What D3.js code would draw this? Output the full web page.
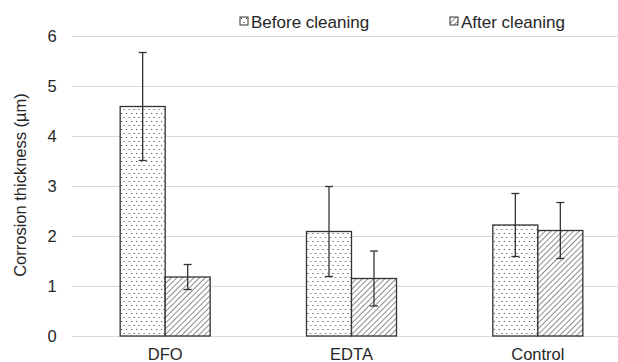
<!DOCTYPE html>
<html>
<head>
<meta charset="utf-8">
<script src="https://cdn.jsdelivr.net/npm/d3@7"></script>
<style>
  body { margin: 0; background: #fff; }
  text { font-family: "Liberation Sans", Arial, sans-serif; fill: #262626; }
</style>
</head>
<body>
<div id="chart"></div>
<script>
// chart data
var categories = ["DFO", "EDTA", "Control"];
var seriesNames = ["Before cleaning", "After cleaning"];
var beforeValues = [4.59, 2.09, 2.22];
var afterValues = [1.18, 1.15, 2.11];
var beforeErrors = [1.08, 0.9, 0.63];
var afterErrors = [0.25, 0.55, 0.56];
var yTicks = [0, 1, 2, 3, 4, 5, 6];

var width = 618, height = 362;
var margin = {top: 36, bottom: 26, left: 72, right: -13};

var svg = d3.select("#chart").append("svg")
  .attr("width", width)
  .attr("height", height);

var defs = svg.append("defs");

// dotted fill for "before"
var dots = defs.append("pattern")
  .attr("id", "dots")
  .attr("patternUnits", "userSpaceOnUse")
  .attr("width", 5).attr("height", 8);
dots.append("rect").attr("width", 5).attr("height", 8).attr("fill", "#fff");
dots.append("rect").attr("x", 1).attr("y", 1).attr("width", 1).attr("height", 1).attr("fill", "#333");
dots.append("rect").attr("x", 3.5).attr("y", 5).attr("width", 1).attr("height", 1).attr("fill", "#333");

// diagonal hatch for "after"
var hatch = defs.append("pattern")
  .attr("id", "hatch")
  .attr("patternUnits", "userSpaceOnUse")
  .attr("width", 4).attr("height", 4)
  .attr("patternTransform", "rotate(45)");
hatch.append("rect").attr("width", 4).attr("height", 4).attr("fill", "#fff");
hatch.append("line")
  .attr("x1", 0).attr("y1", 0).attr("x2", 0).attr("y2", 4)
  .attr("stroke", "#404040").attr("stroke-width", 1.2);

var x0 = d3.scaleBand()
  .domain(categories)
  .range([margin.left, width - margin.right])
  .paddingInner(0.517)
  .paddingOuter(0.2585);

var x1 = d3.scaleBand()
  .domain(seriesNames)
  .range([0, x0.bandwidth()]);

var y = d3.scaleLinear()
  .domain([0, 6])
  .range([height - margin.bottom, margin.top]);

// gridlines
svg.append("g")
  .selectAll("line")
  .data(yTicks)
  .enter().append("line")
  .attr("x1", margin.left)
  .attr("x2", width)
  .attr("y1", function(d) { return y(d) + 0.5; })
  .attr("y2", function(d) { return y(d) + 0.5; })
  .attr("stroke", "#d9d9d9")
  .attr("stroke-width", 1);

// y axis labels
var yAxis = d3.axisLeft(y).tickValues(yTicks).tickSize(0).tickFormat(d3.format("d"));
var yg = svg.append("g")
  .attr("transform", "translate(52,0)")
  .call(yAxis);
yg.select(".domain").remove();
yg.selectAll("text")
  .style("font-size", "16.5px")
  .attr("text-anchor", "middle")
  .attr("x", 0);

// axis title
svg.append("text")
  .attr("transform", "translate(26,185) rotate(-90)")
  .attr("text-anchor", "middle")
  .style("font-size", "16.5px")
  .text("Corrosion thickness (\u00b5m)");

// bars
var rows = categories.map(function(c, i) {
  return [
    {cat: c, series: seriesNames[0], value: beforeValues[i], err: beforeErrors[i], fill: "url(#dots)"},
    {cat: c, series: seriesNames[1], value: afterValues[i], err: afterErrors[i], fill: "url(#hatch)"}
  ];
});

var groups = svg.append("g")
  .selectAll("g")
  .data(rows)
  .enter().append("g")
  .attr("transform", function(d) { return "translate(" + x0(d[0].cat) + ",0)"; });

groups.selectAll("rect")
  .data(function(d) { return d; })
  .enter().append("rect")
  .attr("x", function(d) { return x1(d.series); })
  .attr("y", function(d) { return y(d.value); })
  .attr("width", x1.bandwidth())
  .attr("height", function(d) { return y(0) - y(d.value); })
  .attr("fill", function(d) { return d.fill; })
  .attr("stroke", "#333")
  .attr("stroke-width", 1.3);

// error bars
var errs = groups.selectAll("g.err")
  .data(function(d) { return d; })
  .enter().append("g")
  .attr("class", "err")
  .attr("stroke", "#333")
  .attr("stroke-width", 1.3);

errs.append("line")
  .attr("x1", function(d) { return x1(d.series) + x1.bandwidth() / 2; })
  .attr("x2", function(d) { return x1(d.series) + x1.bandwidth() / 2; })
  .attr("y1", function(d) { return y(d.value + d.err); })
  .attr("y2", function(d) { return y(d.value - d.err); });
errs.selectAll("line.cap")
  .data(function(d) { return [d.value + d.err, d.value - d.err].map(function(v) { return {v: v, s: d.series}; }); })
  .enter().append("line")
  .attr("class", "cap")
  .attr("x1", function(d) { return x1(d.s) + x1.bandwidth() / 2 - 4; })
  .attr("x2", function(d) { return x1(d.s) + x1.bandwidth() / 2 + 4; })
  .attr("y1", function(d) { return y(d.v); })
  .attr("y2", function(d) { return y(d.v); });

// category labels
svg.append("g")
  .selectAll("text")
  .data(categories)
  .enter().append("text")
  .attr("x", function(d) { return x0(d) + x0.bandwidth() / 2; })
  .attr("y", 360)
  .attr("text-anchor", "middle")
  .style("font-size", "16.5px")
  .text(function(d) { return d; });

// legend
var legendX = [240, 450];
var legend = svg.append("g")
  .selectAll("g")
  .data(seriesNames)
  .enter().append("g")
  .attr("transform", function(d, i) { return "translate(" + legendX[i] + ",17)"; });
legend.append("rect")
  .attr("width", 8).attr("height", 8)
  .attr("fill", function(d, i) { return i === 0 ? "url(#dots)" : "url(#hatch)"; })
  .attr("stroke", "#333")
  .attr("stroke-width", 1);
legend.append("text")
  .attr("x", 11)
  .attr("y", 11)
  .style("font-size", "17px")
  .text(function(d) { return d; });
</script>
</body>
</html>
